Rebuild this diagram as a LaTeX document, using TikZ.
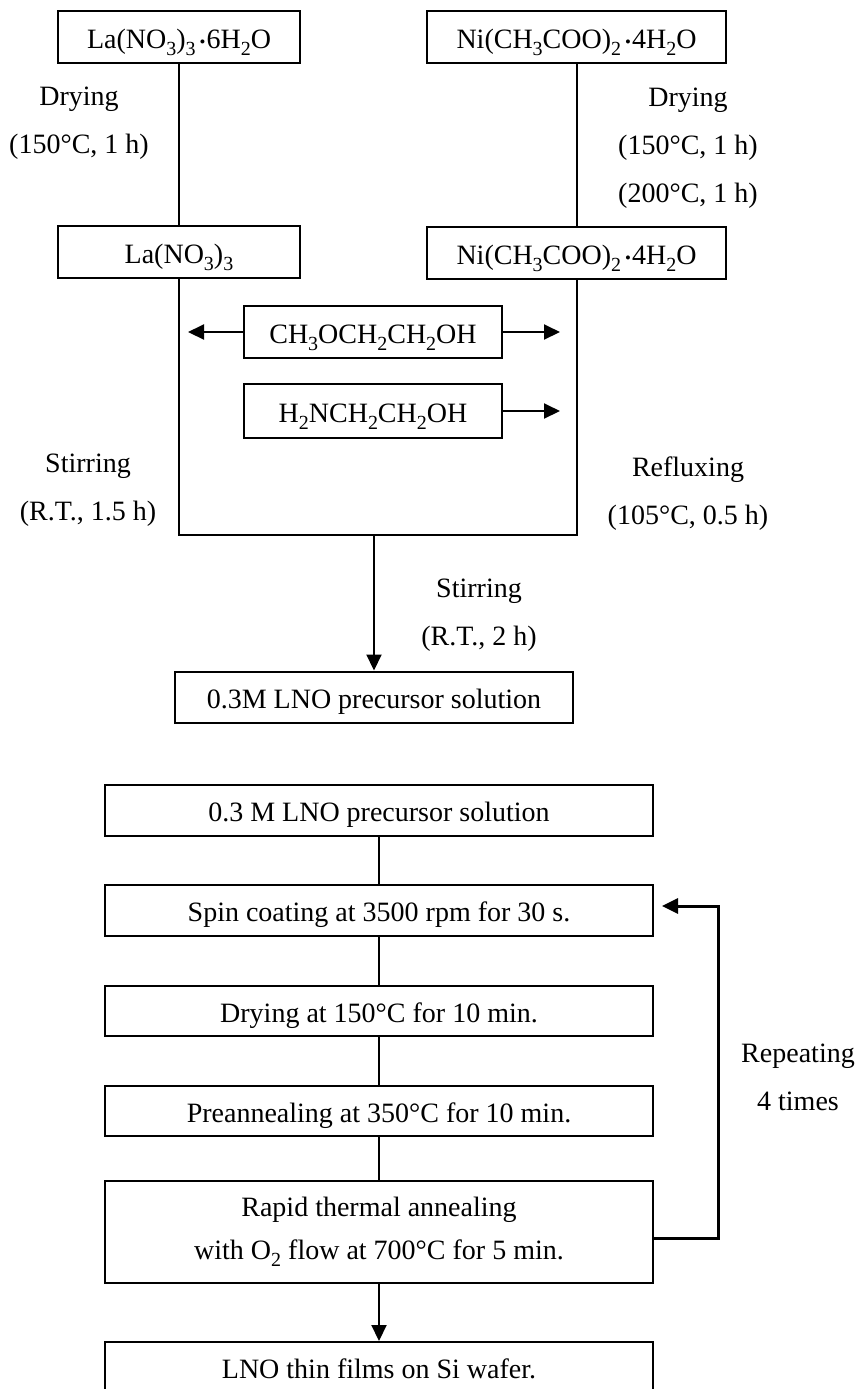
\documentclass[tikz,border=0pt]{standalone}
\usepackage{fontspec}
\setmainfont{Liberation Serif}
\usepackage{tikz}
\usetikzlibrary{arrows.meta,positioning}
\newcommand{\hyd}{\kern2pt\raisebox{0.5pt}{\scalebox{0.6}{\textbullet}}\kern0.5pt}
\newcommand{\chsub}[1]{\raisebox{-3.6pt}{\fontsize{10}{10}\selectfont #1}}
\tikzstyle{arrow} = [line width=1pt,-{Triangle[width=7.5pt,length=8pt]}]
\tikzstyle{tallbox} = [rectangle, draw, line width=1pt, minimum height=26pt, inner sep=0pt, text centered, font=\fontsize{14}{17}\selectfont]
\tikzstyle{box} = [tallbox, text height=11pt, text depth=0pt]
\tikzstyle{lbl} = [align=center, inner sep=0pt, font=\fontsize{14}{24}\selectfont]

\begin{document}
\begin{tikzpicture}[x=0.5pt, y=-0.5pt, line width=1pt]
\useasboundingbox (0,0) rectangle (855,1389);
% Precursor preparation
\node (la6) [box, minimum width=121pt] at (179,37) {La(NO\chsub{3})\chsub{3}\hyd 6H\chsub{2}O};
\node (ni6) [box, minimum width=149.5pt] at (576.5,37) {Ni(CH\chsub{3}COO)\chsub{2}\hyd 4H\chsub{2}O};
\node (la) [box, minimum width=121pt] at (179,252) {La(NO\chsub{3})\chsub{3}};
\node (ni) [box, minimum width=149.5pt] at (576.5,253) {Ni(CH\chsub{3}COO)\chsub{2}\hyd 4H\chsub{2}O};
\node (meoh) [box, minimum width=129pt] at (373,332) {CH\chsub{3}OCH\chsub{2}CH\chsub{2}OH};
\node (mea) [box, minimum width=129pt, minimum height=27pt] at (373,411) {H\chsub{2}NCH\chsub{2}CH\chsub{2}OH};
\node (sol1) [box, minimum width=199pt, minimum height=25.5pt] at (374,697) {0.3M LNO precursor solution};

\node (dryl) [lbl] at (79,123) {Drying\\(150°C, 1 h)};
\node (dryr) [lbl] at (688,148) {Drying\\(150°C, 1 h)\\(200°C, 1 h)};
\node (stirl) [lbl] at (88,490) {Stirring\\(R.T., 1.5 h)};
\node (reflux) [lbl] at (688,494) {Refluxing\\(105°C, 0.5 h)};
\node (stirm) [lbl] at (479,615) {Stirring\\(R.T., 2 h)};

\coordinate (join) at (374,535);
\coordinate (ml) at (188,332);
\coordinate (mr) at (560,332);
\coordinate (ar) at (560,411);

\draw (la6) -- (la);
\draw (ni6) -- (ni);
\draw (la.south) |- (join) -| (ni.south);
\draw[arrow] (meoh) -- (ml);
\draw[arrow] (meoh) -- (mr);
\draw[arrow] (mea) -- (ar);
\draw[arrow] (join) -- (sol1);

% Film deposition
\node (sol2) [box, minimum width=274pt, minimum height=25.5pt] at (379,810.5) {0.3 M LNO precursor solution};
\node (spin) [box, minimum width=274pt, minimum height=25.5pt] at (379,910.5) {Spin coating at 3500 rpm for 30 s.};
\node (dry) [box, minimum width=274pt, minimum height=25pt] at (379,1011) {Drying at 150°C for 10 min.};
\node (pre) [box, minimum width=274pt, minimum height=25pt] at (379,1111) {Preannealing at 350°C for 10 min.};
\node (rta) [tallbox, minimum width=274pt, minimum height=51pt, align=center, font=\fontsize{14}{21.5}\selectfont] at (379,1232) {Rapid thermal annealing\\with O\chsub{2} flow at 700°C for 5 min.};
\node (film) [box, minimum width=274pt, minimum height=25.5pt] at (379,1367.5) {LNO thin films on Si wafer.};
\node (rep) [lbl] at (798,1077) {Repeating\\4 times};

\coordinate (loop) at (718,906);
\coordinate (back) at (662,906);

\draw (sol2) -- (spin);
\draw (spin) -- (dry);
\draw (dry) -- (pre);
\draw (pre) -- (rta);
\draw[arrow] (rta) -- (film);
\draw[arrow, line width=1.5pt] ([yshift=-3pt]rta.east) -| (loop) -- (back);
\end{tikzpicture}
\end{document}
